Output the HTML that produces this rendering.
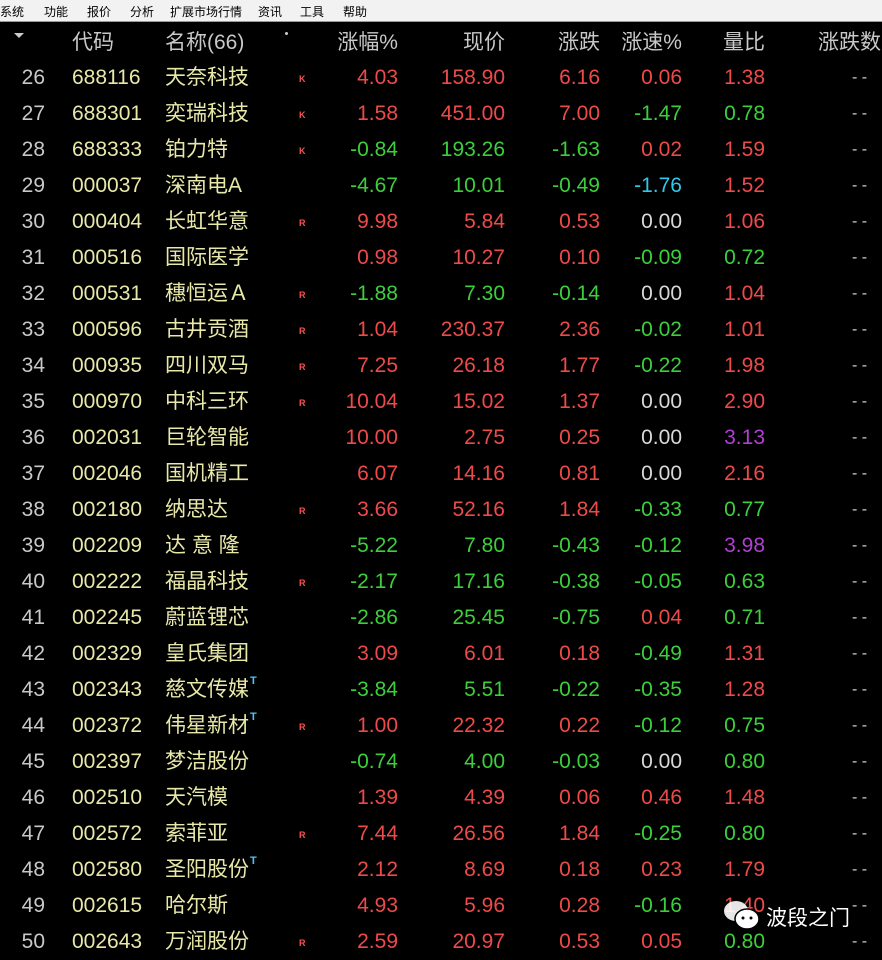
<!DOCTYPE html>
<html><head><meta charset="utf-8">
<style>
body{margin:0;width:882px;height:956px;overflow:hidden;background:#000;font-family:"Liberation Sans","Noto Sans CJK SC",sans-serif;}
#menu{position:absolute;left:0;top:0;width:882px;height:21px;background:#f2f2f2;border-bottom:1px solid #999;font-size:12px;color:#000;}
#menu span{position:absolute;top:3px;}
.c{position:absolute;font-size:21px;white-space:nowrap;line-height:24px;}
.r{text-align:right;}
.tag{position:absolute;font-size:9px;font-weight:bold;color:#ff5050;}
.sup{position:absolute;font-size:11px;font-weight:bold;color:#40c8ff;}
</style></head><body>
<div id="menu">
<span style="left:0">系统</span>
<span style="left:44px">功能</span>
<span style="left:87px">报价</span>
<span style="left:130px">分析</span>
<span style="left:170px">扩展市场行情</span>
<span style="left:258px">资讯</span>
<span style="left:300px">工具</span>
<span style="left:343px">帮助</span>
</div>
<div id="tbl"></div>
<div style="position:absolute;left:722px;top:897px;">
<svg width="40" height="36" style="position:absolute;left:0;top:0"><ellipse cx="14" cy="14" rx="12" ry="10" fill="#fff" opacity="0.9"/><ellipse cx="25" cy="22" rx="12" ry="10" fill="#fff" stroke="#000" stroke-width="1.5"/><circle cx="21" cy="21" r="1.5" fill="#000"/><circle cx="29" cy="21" r="1.5" fill="#000"/></svg>
<span style="position:absolute;left:44px;top:5px;font-size:21px;color:#fff;white-space:nowrap;">波段之门</span>
</div>
<script>
const idx=[26,27,28,29,30,31,32,33,34,35,36,37,38,39,40,41,42,43,44,45,46,47,48,49,50];
const codes=["688116","688301","688333","000037","000404","000516","000531","000596","000935","000970","002031","002046","002180","002209","002222","002245","002329","002343","002372","002397","002510","002572","002580","002615","002643"];
const names=["天奈科技","奕瑞科技","铂力特","深南电A","长虹华意","国际医学","穗恒运Ａ","古井贡酒","四川双马","中科三环","巨轮智能","国机精工","纳思达","达 意 隆","福晶科技","蔚蓝锂芯","皇氏集团","慈文传媒","伟星新材","梦洁股份","天汽模","索菲亚","圣阳股份","哈尔斯","万润股份"];
const tags=["K","K","K","","R","","R","R","R","R","","","R","","R","","","","R","","","R","","","R"];
const sups=["","","","","","","","","","","","","","","","","","T","T","","","","T","",""];
const pct=[4.03,1.58,-0.84,-4.67,9.98,0.98,-1.88,1.04,7.25,10.04,10.00,6.07,3.66,-5.22,-2.17,-2.86,3.09,-3.84,1.00,-0.74,1.39,7.44,2.12,4.93,2.59];
const price=[158.90,451.00,193.26,10.01,5.84,10.27,7.30,230.37,26.18,15.02,2.75,14.16,52.16,7.80,17.16,25.45,6.01,5.51,22.32,4.00,4.39,26.56,8.69,5.96,20.97];
const chg=[6.16,7.00,-1.63,-0.49,0.53,0.10,-0.14,2.36,1.77,1.37,0.25,0.81,1.84,-0.43,-0.38,-0.75,0.18,-0.22,0.22,-0.03,0.06,1.84,0.18,0.28,0.53];
const speed=[0.06,-1.47,0.02,-1.76,0.00,-0.09,0.00,-0.02,-0.22,0.00,0.00,0.00,-0.33,-0.12,-0.05,0.04,-0.49,-0.35,-0.12,0.00,0.46,-0.25,0.23,-0.16,0.05];
const vratio=[1.38,0.78,1.59,1.52,1.06,0.72,1.04,1.01,1.98,2.90,3.13,2.16,0.77,3.98,0.63,0.71,1.31,1.28,0.75,0.80,1.48,0.80,1.79,1.40,0.80];
const headers=["代码","名称(66)","涨幅%","现价","涨跌","涨速%","量比","涨跌数"];

const RED="#ee4a4a",GREEN="#3ccf3c",WHITE="#d8d8d8";
const tbl=document.getElementById('tbl');
function cell(txt,left,top,color,right,w){
  const d=document.createElement('div');
  d.className='c'+(right?' r':'');
  d.style.top=top+'px';
  if(right){d.style.left=(left-w)+'px';d.style.width=w+'px';}else d.style.left=left+'px';
  d.style.color=color;d.textContent=txt;tbl.appendChild(d);return d;
}
function sign(v){return v>0?RED:(v<0?GREEN:WHITE);}
const hy=31;
let h;
h=document.createElement('div');h.style.cssText='position:absolute;left:14px;top:33px;width:0;height:0;border-left:5px solid transparent;border-right:5px solid transparent;border-top:5px solid #ccc';
tbl.appendChild(h);
h=cell(headers[0],72,hy,"#c8c8c8",false);
h=cell(headers[1],165,hy,"#c8c8c8",false);
h=document.createElement('div');h.style.cssText='position:absolute;left:285px;top:32px;width:3px;height:3px;background:#ccc;border-radius:2px';
tbl.appendChild(h);
const hr=[[headers[2],398,'header-change-pct'],[headers[3],505,'header-price'],[headers[4],600,'header-change'],[headers[5],682,'header-speed'],[headers[6],765,'header-volume-ratio']];
hr.forEach(a=>{h=cell(a[0],a[1],hy,"#c8c8c8",true,120);});
h=cell(headers[7],818,hy,"#c8c8c8",false);

idx.forEach((n,i)=>{
  const y=66+i*36;
  const row=document.createElement('div');
  
  
  row.style.cssText='position:absolute;left:0;top:'+(y-6)+'px;width:882px;height:36px';
  tbl.appendChild(row);
  let c;
  c=cell(String(n),45,y,"#c8c8c8",true,40);
  c=cell(codes[i],72,y,"#e8e8a8",false);
  c=cell(names[i],165,y,"#e8e8a8",false);
  if(sups[i]){const s=document.createElement('div');s.className='sup';s.style.left=(165+c.getBoundingClientRect().width+1)+'px';s.style.top=(y-3)+'px';s.textContent=sups[i];
    
    tbl.appendChild(s);}
  if(tags[i]){const t=document.createElement('div');t.className='tag';t.style.left='299px';t.style.top=(y+8)+'px';t.textContent=tags[i];
    
    tbl.appendChild(t);}
  const col=sign(pct[i]);
  c=cell(pct[i].toFixed(2),398,y,col,true,100);
  c=cell(price[i].toFixed(2),505,y,col,true,100);
  c=cell(chg[i].toFixed(2),600,y,sign(chg[i]),true,100);
  let sc=sign(speed[i]); if(speed[i]<=-1.7) sc="#30c8e8";
  c=cell(speed[i].toFixed(2),682,y,sc,true,100);
  let vc=vratio[i]>=3?"#b040d0":(vratio[i]>=1?RED:GREEN);
  c=cell(vratio[i].toFixed(2),765,y,vc,true,100);
  c=cell("- -",852,y,"#d0d0d0",false);c.style.fontSize='16px';
});
</script>
</body></html>
